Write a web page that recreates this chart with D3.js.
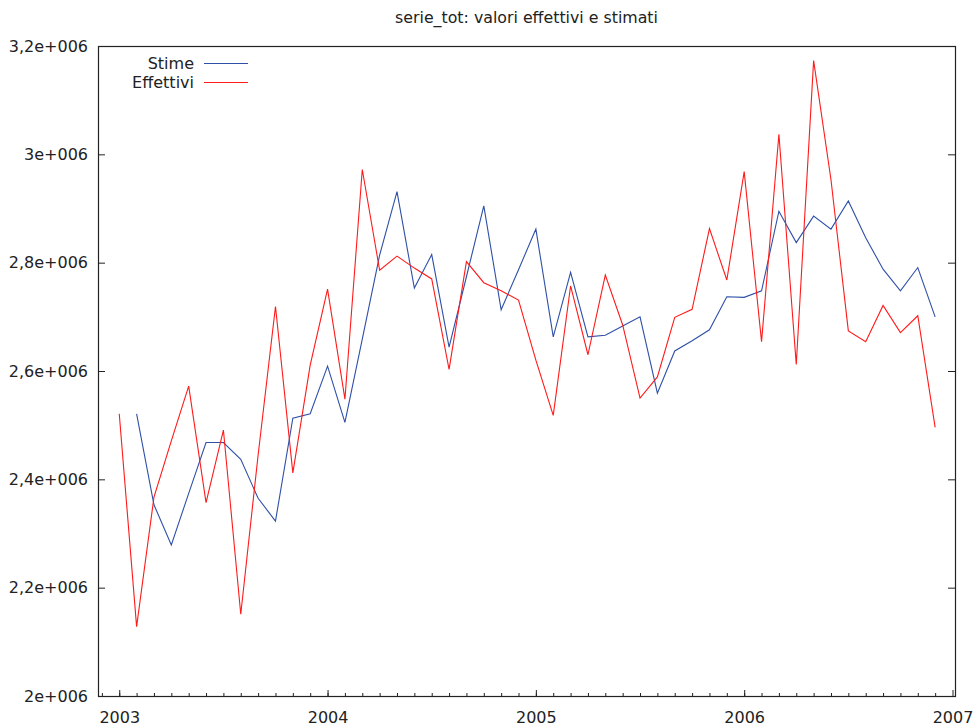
<!DOCTYPE html>
<html>
<head>
<meta charset="utf-8">
<script src="https://cdn.jsdelivr.net/npm/d3@7"></script>
<style>
  html, body { margin: 0; padding: 0; background: #fff; }
  svg { display: block; font-family: "DejaVu Sans", sans-serif; }
</style>
</head>
<body>
<svg id="chart" width="975" height="728"></svg>
<script>
// Monthly periods, 2003:01 – 2006:12
const periods = [
  "2003:01","2003:02","2003:03","2003:04","2003:05","2003:06","2003:07","2003:08","2003:09","2003:10","2003:11","2003:12",
  "2004:01","2004:02","2004:03","2004:04","2004:05","2004:06","2004:07","2004:08","2004:09","2004:10","2004:11","2004:12",
  "2005:01","2005:02","2005:03","2005:04","2005:05","2005:06","2005:07","2005:08","2005:09","2005:10","2005:11","2005:12",
  "2006:01","2006:02","2006:03","2006:04","2006:05","2006:06","2006:07","2006:08","2006:09","2006:10","2006:11","2006:12"
];

// Fitted values (no estimate for the first month)
const stime = [
  null,    2521000, 2353000, 2279000, 2374000, 2468000, 2468000, 2437000, 2365000, 2323000, 2513000, 2521000,
  2609000, 2505000, 2659000, 2814000, 2931000, 2753000, 2815000, 2644000, 2774000, 2905000, 2713000, 2787000,
  2862000, 2663000, 2782000, 2663000, 2666000, 2683000, 2700000, 2559000, 2637000, 2656000, 2676000, 2737000,
  2736000, 2748000, 2895000, 2837000, 2886000, 2862000, 2914000, 2846000, 2788000, 2748000, 2791000, 2700000
];

// Observed values
const effettivi = [
  2521000, 2128000, 2367000, 2471000, 2572000, 2357000, 2491000, 2151000, 2445000, 2719000, 2412000, 2611000,
  2751000, 2548000, 2972000, 2786000, 2812000, 2790000, 2770000, 2603000, 2802000, 2763000, 2748000, 2731000,
  2620000, 2518000, 2757000, 2630000, 2777000, 2685000, 2550000, 2589000, 2699000, 2714000, 2863000, 2768000,
  2968000, 2654000, 3037000, 2612000, 3173000, 2953000, 2674000, 2654000, 2721000, 2671000, 2702000, 2496000
];

const xTickYears = [2003, 2004, 2005, 2006, 2007];
const yTickValues = [2000000, 2200000, 2400000, 2600000, 2800000, 3000000, 3200000];
const yTickLabels = ["2e+006", "2,2e+006", "2,4e+006", "2,6e+006", "2,8e+006", "3e+006", "3,2e+006"];

const seriesNames = ["Stime", "Effettivi"];
const seriesColors = ["#2f50a8", "#ff1a1a"];
const titleText = "serie_tot: valori effettivi e stimati";

// period "YYYY:MM" -> decimal year
const toYear = p => +p.slice(0, 4) + (+p.slice(5) - 1) / 12;

const svg = d3.select("#chart");
const plotLeft = 98, plotRight = 955, plotTop = 46, plotBottom = 696;

const x = d3.scaleLinear().domain([2002.898, 2007.012]).range([plotLeft, plotRight]);
const y = d3.scaleLinear().domain([2000000, 3200000]).range([plotBottom, plotTop]);

const ink = "#222";
const labelSize = 16;

// Title
svg.append("text")
  .attr("x", (plotLeft + plotRight) / 2)
  .attr("y", 23)
  .attr("text-anchor", "middle")
  .attr("font-size", 15.8)
  .attr("fill", ink)
  .text(titleText);

// Bottom axis: yearly major ticks, monthly minor ticks
const monthTicks = d3.range(0, 49).map(i => 2003 + (i - 1) / 12).filter(v => v >= 2002.9 && v <= 2007);
svg.append("g")
  .attr("transform", `translate(0,${plotBottom})`)
  .call(d3.axisBottom(x).tickValues(monthTicks).tickSize(-3).tickFormat(""))
  .call(g => g.select(".domain").remove())
  .call(g => g.selectAll("line").attr("stroke", ink));

svg.append("g")
  .attr("transform", `translate(0,${plotBottom})`)
  .call(d3.axisBottom(x).tickValues(xTickYears).tickSize(-6).tickPadding(16).tickFormat(d3.format("d")))
  .call(g => g.select(".domain").remove())
  .call(g => g.selectAll("line").attr("stroke", ink))
  .call(g => g.selectAll("text").attr("font-size", labelSize).attr("fill", ink)
    .attr("font-family", "DejaVu Sans, sans-serif"));

// Left axis
svg.append("g")
  .attr("transform", `translate(${plotLeft},0)`)
  .call(d3.axisLeft(y).tickValues(yTickValues).tickSize(-7).tickPadding(10)
    .tickFormat((d, i) => yTickLabels[i]))
  .call(g => g.select(".domain").remove())
  .call(g => g.selectAll("line").attr("stroke", ink))
  .call(g => g.selectAll("text").attr("font-size", labelSize).attr("fill", ink)
    .attr("font-family", "DejaVu Sans, sans-serif"));

// Right mirror ticks
svg.append("g")
  .attr("transform", `translate(${plotRight},0)`)
  .call(d3.axisRight(y).tickValues(yTickValues).tickSize(-7).tickFormat(""))
  .call(g => g.select(".domain").remove())
  .call(g => g.selectAll("line").attr("stroke", ink));

// Frame
svg.append("rect")
  .attr("x", plotLeft + 0.5).attr("y", plotTop + 0.5)
  .attr("width", plotRight - plotLeft).attr("height", plotBottom - plotTop)
  .attr("fill", "none").attr("stroke", ink).attr("stroke-width", 1.2);

// Series lines
const line = d3.line()
  .defined(d => d.v != null)
  .x(d => x(d.t))
  .y(d => y(d.v));

const series = [stime, effettivi].map((vals, k) => ({
  name: seriesNames[k],
  color: seriesColors[k],
  points: periods.map((p, i) => ({ t: toYear(p), v: vals[i] }))
}));

svg.append("g")
  .selectAll("path")
  .data(series)
  .join("path")
  .attr("fill", "none")
  .attr("stroke", d => d.color)
  .attr("stroke-width", 1.1)
  .attr("stroke-linejoin", "miter")
  .attr("d", d => line(d.points));

// Legend
const legend = svg.append("g");
series.forEach((s, k) => {
  const ly = 63 + k * 19;
  legend.append("text")
    .attr("x", 194).attr("y", ly + 5.5)
    .attr("text-anchor", "end")
    .attr("font-size", labelSize)
    .attr("fill", ink)
    .text(s.name);
  legend.append("line")
    .attr("x1", 204).attr("x2", 248)
    .attr("y1", ly + 0.5).attr("y2", ly + 0.5)
    .attr("stroke", s.color).attr("stroke-width", 1.1);
});
</script>
</body>
</html>
